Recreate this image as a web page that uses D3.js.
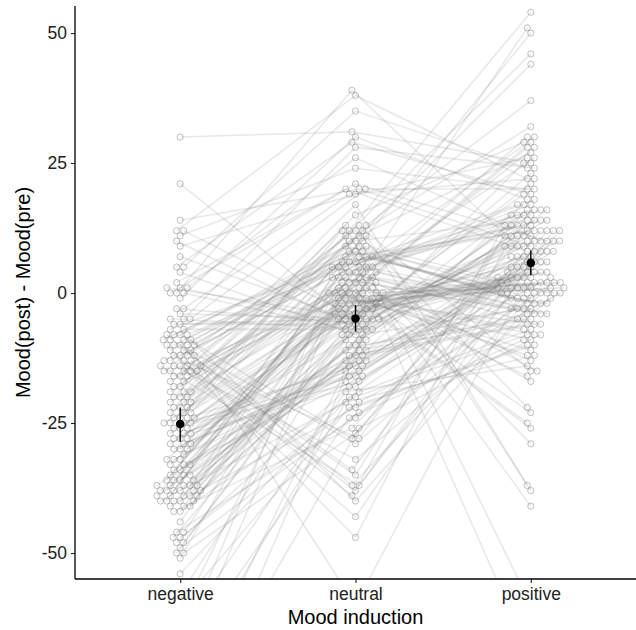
<!DOCTYPE html>
<html>
<head>
<meta charset="utf-8">
<style>
body { margin: 0; background: #fff; }
svg text { font-family: "Liberation Sans", Arial, sans-serif; }
.tick text { font-size: 17.5px; fill: #222; }
.axis-title { font-size: 20px; fill: #000; }
</style>
<script src="https://cdn.jsdelivr.net/npm/d3@7"></script>
</head>
<body>
<svg width="636" height="630"></svg>
<script>
// categories on the x axis
var categories = ["negative", "neutral", "positive"];

// one value per subject and condition, same subject order in each array
var negativeValues = [
  30, 21, 14, 12, 12, 11, 10, 9, 7, 5, 5, 4, 2, 1, 1, 1, 0, 0, 0, -1, -3, -3, -4, -5, -5, -5, -6, -6, -7,
  -7, -8, -8, -8, -8, -9, -9, -9, -9, -10, -10, -10, -10, -10, -11, -11, -11, -12, -12, -12, -12, -13, -13, -13, -13, -14, -14, -14, -14,
  -14, -15, -15, -15, -15, -15, -16, -16, -16, -17, -17, -18, -18, -19, -19, -19, -20, -20, -20, -21, -21, -21, -22, -22, -22, -23, -23, -23, -24,
  -24, -24, -24, -25, -25, -25, -25, -26, -26, -26, -27, -27, -27, -28, -28, -28, -29, -29, -29, -30, -30, -30, -31, -32, -32, -32, -33, -33, -33,
  -34, -34, -35, -35, -35, -36, -36, -36, -36, -37, -37, -37, -37, -37, -38, -38, -38, -38, -38, -38, -39, -39, -39, -39, -39, -40, -40, -40, -40,
  -40, -41, -41, -41, -42, -42, -44, -46, -46, -47, -47, -48, -48, -49, -50, -50, -51, -54, -58, -60, -62, -65, -68, -70, -72, -75, -80, -85, -90
];
var neutralValues = [
  31, -6, 20, 38, -5, 24, -7, 19, -5, 29, 35, -8, 20, -6, 26, -5, 39, -7, 21, 30, -6, 19, -5, 28, -7, 20, -6, -5, -7,
  7, -28, 9, 6, -37, 8, 10, -40, 7, -29, 6, 9, -47, 8, -34, 7, -60, 6, -38, 9, 8, -28, 7, -35, 6, -43, -32, -39, -37,
  2, 13, 0, 3, 12, 1, 17, 2, 11, 1, 3, 13, 2, 10, 0, 12, 1, 15, 3, 11, 2, 12, 1, 13, 2, 10, 1, 11, 12,
  -3, -14, -2, -16, -4, -13, -3, -2, -17, -4, -15, -3, -18, -2, -13, -4, -16, -5, -14, -3, -15, -4, -13, -2, -17, -3, -16, -4, -14,
  -10, 5, -8, 4, -12, -9, 3, 5, -11, -10, 4, -8, 5, -12, -9, 3, 4, -11, 5, -10, -8, 4, 5, -9, -12, 3, -11, 5, 4,
  -20, 0, -22, -1, -19, -26, 0, -24, -1, -21, -2, -18, 0, -23, -1, -27, 0, -20, -1, -22, -2, -19, 0, -24, -1, -21, 0, -26, -1
];
var positiveValues = [
  25, 10, 9, 22, 11, 20, 10, 26, 9, 19, 24, 11, 8, 21, 10, 25, 9, 23, 10, 18, 11, 22, 9, 24, 10, 20, 19, 9, 10,
  0, 13, -1, 12, 0, -2, 14, 0, 12, -1, 13, 0, 11, -2, 12, 0, -1, 13, 12, 0, -1, 11, 0, 13, -2, 12, -1, 13, 12,
  30, -15, 28, 51, -22, 29, -37, 26, 44, -16, 30, -60, 28, 27, -25, 54, -17, 29, -29, 46, -23, 32, -41, 37, -15, 50, -26, -38, -70,
  4, 8, 2, 7, 3, 5, 6, 2, 8, 4, 3, 7, 5, 2, 6, 3, 8, 4, 7, 2, 5, 3, 6, 4, 8, 5, 3, 7, 6,
  16, -3, 15, 17, -4, 14, -2, 16, -5, 15, 18, -3, 14, -6, 17, -4, 16, -3, 15, -5, 14, -4, 17, 16, -6, -3, 15, -5, -4,
  -8, 1, -10, 2, -7, 3, -12, 1, -9, 0, -6, 1, -13, 2, -8, 4, -11, 1, -7, -10, 1, -14, 2, -9, 1, -12, 2, -8, 1
];

// group means and interval ends
var meanValues = [-25.2, -4.9, 5.8];
var lowerValues = [-28.6, -7.4, 3.4];
var upperValues = [-22.0, -2.3, 8.2];

var yTicks = [-50, -25, 0, 25, 50];

var svg = d3.select("svg");
var panelLeft = 75, panelRight = 636, panelTop = 6, panelBottom = 579;

var x = d3.scalePoint().domain(categories).range([panelLeft, panelRight]).padding(0.6);
var y = d3.scaleLinear().domain([-55, 55.2]).range([panelBottom, panelTop]);

// beeswarm offsets so the circles of one column don't overlap
function swarm(values, d) {
  var order = values.map(function(v, i) { return i; })
    .sort(function(a, b) { return values[a] - values[b]; });
  var placed = [];
  var offsets = new Array(values.length);
  order.forEach(function(i) {
    var py = y(values[i]);
    var near = placed.filter(function(p) { return Math.abs(p.y - py) < d; });
    var cands = [0];
    near.forEach(function(p) {
      var dx = Math.sqrt(d * d - (p.y - py) * (p.y - py));
      cands.push(p.x + dx, p.x - dx);
    });
    cands.sort(function(a, b) { return Math.abs(a) - Math.abs(b) || a - b; });
    var cx = cands.find(function(c) {
      return near.every(function(p) {
        return (c - p.x) * (c - p.x) + (p.y - py) * (p.y - py) >= d * d - 0.01;
      });
    });
    placed.push({ x: cx, y: py });
    offsets[i] = cx;
  });
  return offsets;
}

var columns = [negativeValues, neutralValues, positiveValues];
var offsets = columns.map(function(v) { return swarm(v, 6.3); });

var subjects = negativeValues.map(function(v, i) {
  return categories.map(function(c, k) {
    return { x: x(c) + offsets[k][i], y: y(columns[k][i]) };
  });
});

svg.append("clipPath").attr("id", "panel")
  .append("rect").attr("x", panelLeft).attr("y", panelTop)
  .attr("width", panelRight - panelLeft).attr("height", panelBottom - panelTop);

var panel = svg.append("g").attr("clip-path", "url(#panel)");

var line = d3.line().x(function(d) { return d.x; }).y(function(d) { return d.y; });

panel.append("g").selectAll("path")
  .data(subjects)
  .enter().append("path")
  .attr("d", line)
  .attr("fill", "none")
  .attr("stroke", "#808080")
  .attr("stroke-opacity", 0.18)
  .attr("stroke-width", 1.6);

var pts = [];
subjects.forEach(function(s) { s.forEach(function(p) { pts.push(p); }); });

panel.append("g").selectAll("circle")
  .data(pts)
  .enter().append("circle")
  .attr("cx", function(d) { return d.x; })
  .attr("cy", function(d) { return d.y; })
  .attr("r", 3.1)
  .attr("fill", "none")
  .attr("stroke", "#6e6e6e")
  .attr("stroke-opacity", 0.55)
  .attr("stroke-width", 0.8);

// means with error bars
var summary = svg.append("g");
summary.selectAll("line")
  .data(categories)
  .enter().append("line")
  .attr("x1", function(d) { return x(d); })
  .attr("x2", function(d) { return x(d); })
  .attr("y1", function(d, i) { return y(lowerValues[i]); })
  .attr("y2", function(d, i) { return y(upperValues[i]); })
  .attr("stroke", "#000")
  .attr("stroke-width", 1.4);
summary.selectAll("circle")
  .data(categories)
  .enter().append("circle")
  .attr("cx", function(d) { return x(d); })
  .attr("cy", function(d, i) { return y(meanValues[i]); })
  .attr("r", 4.3)
  .attr("fill", "#000");

// axes
var yAxis = svg.append("g")
  .attr("transform", "translate(" + panelLeft + ",0)")
  .call(d3.axisLeft(y).tickValues(yTicks).tickSize(4).tickPadding(4)
    .tickFormat(function(d) { return String(d); }));
yAxis.select(".domain").remove();
yAxis.selectAll(".tick line").attr("stroke", "#222").attr("stroke-width", 1.1);

var xAxis = svg.append("g")
  .attr("transform", "translate(0," + panelBottom + ")")
  .call(d3.axisBottom(x).tickSize(4).tickPadding(5));
xAxis.select(".domain").remove();
xAxis.selectAll(".tick line").attr("stroke", "#222").attr("stroke-width", 1.1);
svg.selectAll(".tick text").attr("font-family", null).attr("font-size", null);

svg.append("line")
  .attr("x1", panelLeft).attr("x2", panelLeft).attr("y1", panelTop).attr("y2", panelBottom)
  .attr("stroke", "#000").attr("stroke-width", 1.3);
svg.append("line")
  .attr("x1", panelLeft).attr("x2", panelRight).attr("y1", panelBottom).attr("y2", panelBottom)
  .attr("stroke", "#000").attr("stroke-width", 1.3);

svg.append("text")
  .attr("class", "axis-title")
  .attr("x", (panelLeft + panelRight) / 2)
  .attr("y", 624)
  .attr("text-anchor", "middle")
  .text("Mood induction");

svg.append("text")
  .attr("class", "axis-title")
  .attr("transform", "translate(30," + (panelTop + panelBottom) / 2 + ") rotate(-90)")
  .attr("text-anchor", "middle")
  .text("Mood(post) - Mood(pre)");
</script>
</body>
</html>
